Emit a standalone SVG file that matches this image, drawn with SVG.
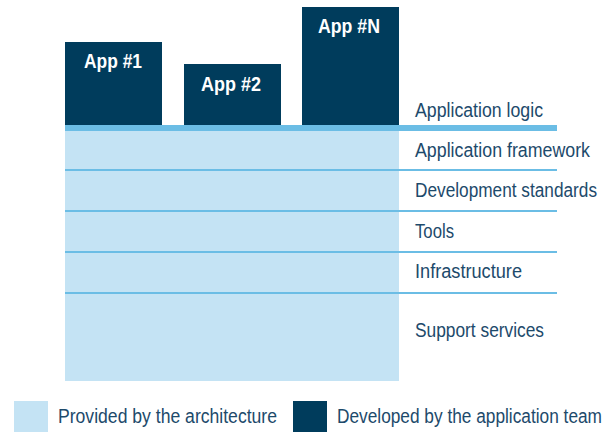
<svg xmlns="http://www.w3.org/2000/svg" width="615" height="433" viewBox="0 0 615 433">
  <style>
    .dark { fill: #003c5c; }
    .light { fill: #c4e3f4; }
    .rule { fill: #6bbde5; }
    .app { font-family: "Liberation Sans", Arial, sans-serif; font-weight: bold; font-size: 20px; fill: #ffffff; text-anchor: middle; }
    .layer { font-family: "Liberation Sans", Arial, sans-serif; font-size: 19.5px; fill: #1d4a6b; }
  </style>

  <!-- shared architecture base -->
  <g id="base">
    <rect class="light" x="65" y="131" width="334" height="250"/>
  </g>

  <!-- application blocks -->
  <g id="app1">
    <rect class="dark" x="65" y="42" width="97" height="84"/>
    <text class="app" x="113" y="68" textLength="58" lengthAdjust="spacingAndGlyphs">App #1</text>
  </g>
  <g id="app2">
    <rect class="dark" x="184" y="64" width="97" height="62"/>
    <text class="app" x="231" y="91" textLength="60" lengthAdjust="spacingAndGlyphs">App #2</text>
  </g>
  <g id="appN">
    <rect class="dark" x="302" y="7" width="97" height="119"/>
    <text class="app" x="349" y="33" textLength="62" lengthAdjust="spacingAndGlyphs">App #N</text>
  </g>

  <!-- layer dividers -->
  <g id="dividers">
    <rect class="rule" x="65" y="125" width="492" height="6"/>
    <rect class="rule" x="65" y="169" width="492" height="2"/>
    <rect class="rule" x="65" y="210" width="492" height="2"/>
    <rect class="rule" x="65" y="251" width="492" height="2"/>
    <rect class="rule" x="65" y="292" width="492" height="2"/>
  </g>

  <!-- layer names -->
  <g id="layer-labels">
    <text class="layer" x="415" y="117" textLength="128" lengthAdjust="spacingAndGlyphs">Application logic</text>
    <text class="layer" x="415" y="157" textLength="175" lengthAdjust="spacingAndGlyphs">Application framework</text>
    <text class="layer" x="415" y="197" textLength="182" lengthAdjust="spacingAndGlyphs">Development standards</text>
    <text class="layer" x="415" y="238" textLength="39" lengthAdjust="spacingAndGlyphs">Tools</text>
    <text class="layer" x="415" y="278" textLength="107" lengthAdjust="spacingAndGlyphs">Infrastructure</text>
    <text class="layer" x="415" y="337" textLength="129" lengthAdjust="spacingAndGlyphs">Support services</text>
  </g>

  <!-- legend -->
  <g id="legend">
    <rect class="light" x="14" y="401" width="34" height="31"/>
    <text class="layer" x="58" y="423" textLength="219" lengthAdjust="spacingAndGlyphs">Provided by the architecture</text>
    <rect class="dark" x="293" y="401" width="34" height="31"/>
    <text class="layer" x="337" y="423" textLength="265" lengthAdjust="spacingAndGlyphs">Developed by the application team</text>
  </g>
</svg>
